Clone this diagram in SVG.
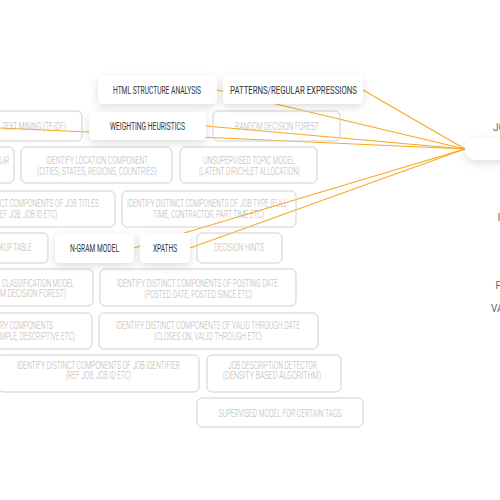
<svg xmlns="http://www.w3.org/2000/svg" width="500" height="500" viewBox="0 0 500 500">
<style>
.bg{fill:#ffffff}
.edge{stroke:#f7a823;stroke-width:1.1;fill:none}
.box{fill:none;stroke:#cfcfcf;stroke-width:1}
.node{fill:#ffffff}
.dt{font-family:Roboto,"Liberation Sans",sans-serif;font-size:11px;fill:#333333;text-anchor:middle}
.gt{font-family:Roboto,"Liberation Sans",sans-serif;font-size:10px;font-weight:300;fill:#b5b5b5;text-anchor:middle}
.ge{font-family:Roboto,"Liberation Sans",sans-serif;font-size:10px;font-weight:300;fill:#b5b5b5;text-anchor:end}
.rt{font-family:Roboto,"Liberation Sans",sans-serif;font-size:10px;fill:#666666;text-anchor:start}
</style>
<defs>
<filter id="sh" x="-30%" y="-50%" width="160%" height="220%">
<feDropShadow dx="0" dy="3" stdDeviation="4" flood-color="#000000" flood-opacity="0.13"/>
</filter>
</defs>
<rect class="bg" x="0" y="0" width="500" height="500"/>
<g id="connectors">
<line class="edge" x1="363" y1="90" x2="465" y2="149"/>
<line class="edge" x1="217" y1="90" x2="465" y2="149"/>
<line class="edge" x1="206" y1="126" x2="465" y2="149"/>
<line class="edge" x1="-10" y1="127.5" x2="465" y2="149"/>
<line class="edge" x1="134" y1="248" x2="465" y2="149"/>
<line class="edge" x1="190" y1="248" x2="465" y2="149"/>
</g>
<g id="n-textmining"><rect class="box" x="-20" y="111" width="102" height="30" rx="5"/><text class="gt" x="34" y="129.5" textLength="64" lengthAdjust="spacingAndGlyphs">TEXT MINING (TF-IDF)</text></g>
<g id="n-random"><rect class="box" x="213" y="111" width="127" height="30" rx="5"/><text class="gt" x="277" y="129.5" textLength="84" lengthAdjust="spacingAndGlyphs">RANDOM DECISION FOREST</text></g>
<g id="n-lar"><rect class="box" x="-20" y="147" width="34" height="36" rx="5"/><text class="ge" x="9" y="164" textLength="9" lengthAdjust="spacingAndGlyphs">LAR</text></g>
<g id="n-location"><rect class="box" x="21" y="147" width="151" height="36" rx="5"/><text class="gt" x="97" y="164" textLength="102" lengthAdjust="spacingAndGlyphs">IDENTIFY LOCATION COMPONENT</text><text class="gt" x="97" y="174.5" textLength="120" lengthAdjust="spacingAndGlyphs">(CITIES, STATES, REGIONS, COUNTRIES)</text></g>
<g id="n-unsupervised"><rect class="box" x="180" y="147" width="137" height="36" rx="5"/><text class="gt" x="249" y="164" textLength="92" lengthAdjust="spacingAndGlyphs">UNSUPERVISED TOPIC MODEL</text><text class="gt" x="249.5" y="174.5" textLength="101" lengthAdjust="spacingAndGlyphs">(LATENT DIRICHLET ALLOCATION)</text></g>
<g id="n-jobtitles"><rect class="box" x="-20" y="191" width="135" height="36" rx="5"/><text class="ge" x="99" y="207" textLength="99" lengthAdjust="spacingAndGlyphs">CT COMPONENTS OF JOB TITLES</text><text class="ge" x="57" y="217.5" textLength="57" lengthAdjust="spacingAndGlyphs">EF JOB, JOB ID ETC)</text></g>
<g id="n-jobtype"><rect class="box" x="122" y="191" width="174" height="36" rx="5"/><text class="gt" x="207" y="207" textLength="160" lengthAdjust="spacingAndGlyphs">IDENTIFY DISTINCT COMPONENTS OF JOB TYPE (FULL</text><text class="gt" x="208.5" y="217.5" textLength="111" lengthAdjust="spacingAndGlyphs">TIME, CONTRACTOR, PART TIME ETC)</text></g>
<g id="n-lookup"><rect class="box" x="-20" y="233" width="68" height="30" rx="5"/><text class="ge" x="32" y="251" textLength="32" lengthAdjust="spacingAndGlyphs">KUP TABLE</text></g>
<g id="n-hints"><rect class="box" x="197" y="233" width="85" height="30" rx="5"/><text class="gt" x="239" y="251" textLength="50" lengthAdjust="spacingAndGlyphs">DECISION HINTS</text></g>
<g id="n-classification"><rect class="box" x="-20" y="269" width="113" height="37" rx="5"/><text class="ge" x="74" y="287" textLength="72" lengthAdjust="spacingAndGlyphs">CLASSIFICATION MODEL</text><text class="ge" x="66" y="297" textLength="66" lengthAdjust="spacingAndGlyphs">M DECISION FOREST)</text></g>
<g id="n-posting"><rect class="box" x="100" y="269" width="196" height="37" rx="5"/><text class="gt" x="197.5" y="287" textLength="161" lengthAdjust="spacingAndGlyphs">IDENTIFY DISTINCT COMPONENTS OF POSTING DATE</text><text class="gt" x="198" y="297.5" textLength="108" lengthAdjust="spacingAndGlyphs">(POSTED DATE, POSTED SINCE ETC)</text></g>
<g id="n-category"><rect class="box" x="-20" y="313" width="112" height="36" rx="5"/><text class="ge" x="53" y="328.5" textLength="53" lengthAdjust="spacingAndGlyphs">RY COMPONENTS</text><text class="ge" x="75" y="339.5" textLength="75" lengthAdjust="spacingAndGlyphs">MPLE, DESCRIPTIVE ETC)</text></g>
<g id="n-valid"><rect class="box" x="99" y="313" width="219" height="36" rx="5"/><text class="gt" x="208" y="328.5" textLength="184" lengthAdjust="spacingAndGlyphs">IDENTIFY DISTINCT COMPONENTS OF VALID THROUGH DATE</text><text class="gt" x="208" y="339.5" textLength="108" lengthAdjust="spacingAndGlyphs">(CLOSES ON, VALID THROUGH ETC)</text></g>
<g id="n-identifier"><rect class="box" x="-2" y="355" width="201" height="37" rx="5"/><text class="gt" x="98.5" y="368.5" textLength="163" lengthAdjust="spacingAndGlyphs">IDENTIFY DISTINCT COMPONENTS OF JOB IDENTIFIER</text><text class="gt" x="98.5" y="379" textLength="65" lengthAdjust="spacingAndGlyphs">(REF JOB, JOB ID ETC)</text></g>
<g id="n-detector"><rect class="box" x="207" y="355" width="134" height="37" rx="5"/><text class="gt" x="272.5" y="368.5" textLength="89" lengthAdjust="spacingAndGlyphs">JOB DESCRIPTION DETECTOR</text><text class="gt" x="272" y="379" textLength="98" lengthAdjust="spacingAndGlyphs">(DENSITY BASED ALGORITHM)</text></g>
<g id="n-supervised"><rect class="box" x="197" y="398" width="166" height="29" rx="5"/><text class="gt" x="280" y="416.5" textLength="123" lengthAdjust="spacingAndGlyphs">SUPERVISED MODEL FOR CERTAIN TAGS</text></g>
<g id="n-html"><rect class="node" filter="url(#sh)" x="98" y="76" width="119" height="28" rx="5"/><text class="dt" x="157" y="94" textLength="88" lengthAdjust="spacingAndGlyphs">HTML STRUCTURE ANALYSIS</text></g>
<g id="n-patterns"><rect class="node" filter="url(#sh)" x="223" y="75" width="140" height="29" rx="5"/><text class="dt" x="293.5" y="94" textLength="127" lengthAdjust="spacingAndGlyphs">PATTERNS/REGULAR EXPRESSIONS</text></g>
<g id="n-weighting"><rect class="node" filter="url(#sh)" x="89" y="112" width="117" height="28" rx="5"/><text class="dt" x="147.5" y="130" textLength="75" lengthAdjust="spacingAndGlyphs">WEIGHTING HEURISTICS</text></g>
<g id="n-ngram"><rect class="node" filter="url(#sh)" x="55" y="233" width="79" height="30" rx="5"/><text class="dt" x="94.5" y="252" textLength="49" lengthAdjust="spacingAndGlyphs">N-GRAM MODEL</text></g>
<g id="n-xpaths"><rect class="node" filter="url(#sh)" x="140" y="233" width="50" height="30" rx="5"/><text class="dt" x="165" y="252" textLength="24" lengthAdjust="spacingAndGlyphs">XPATHS</text></g>
<g id="n-target"><rect class="node" filter="url(#sh)" x="465" y="138" width="60" height="22" rx="11"/></g>
<g id="right-labels">
<text class="rt" x="493" y="131">JO</text>
<text class="rt" x="497.5" y="221">I</text>
<text class="rt" x="495.5" y="289">P</text>
<text class="rt" x="491" y="312">VA</text>
</g>
</svg>
